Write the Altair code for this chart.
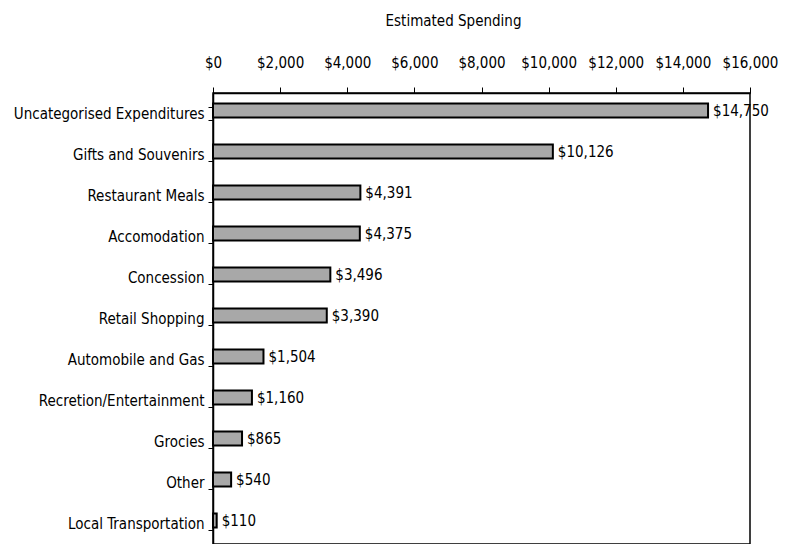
import altair as alt
import pandas as pd

categories = [
    "Uncategorised Expenditures",
    "Gifts and Souvenirs",
    "Restaurant Meals",
    "Accomodation",
    "Concession",
    "Retail Shopping",
    "Automobile and Gas",
    "Recretion/Entertainment",
    "Grocies",
    "Other",
    "Local Transportation",
]
spending = [14750, 10126, 4391, 4375, 3496, 3390, 1504, 1160, 865, 540, 110]
tick_values = [0, 2000, 4000, 6000, 8000, 10000, 12000, 14000, 16000]

df = pd.DataFrame({"category": categories, "spending": spending})

FONT = "DejaVu Sans Condensed, Liberation Sans Narrow, Liberation Sans, sans-serif"

y_enc = alt.Y(
    "category:N",
    sort=categories,
    title=None,
    scale=alt.Scale(paddingInner=0.66, paddingOuter=0.33),
    axis=alt.Axis(
        labelFont=FONT,
        labelFontSize=15,
        labelColor="black",
        labelPadding=4,
        labelLimit=0,
        tickBand="extent",
        tickSize=5,
        tickColor="black",
        domainColor="black",
        domainWidth=1.5,
    ),
)

x_enc = alt.X(
    "spending:Q",
    title="Estimated Spending",
    scale=alt.Scale(domain=[0, 16000], nice=False),
    axis=alt.Axis(
        orient="top",
        values=tick_values,
        format="$,.0f",
        grid=False,
        labelOverlap=False,
        labelFlush=False,
        labelFont=FONT,
        labelFontSize=15,
        labelColor="black",
        labelPadding=17,
        tickSize=6,
        tickColor="black",
        domainColor="black",
        domainWidth=1.5,
        titleFont=FONT,
        titleFontSize=15,
        titleFontWeight="normal",
        titleColor="black",
        titleX=240,
        titleY=-73,
        titleAlign="center",
        titleBaseline="middle",
    ),
)

bars = alt.Chart(df).mark_bar(
    size=14, fill="#a8a8a8", stroke="black", strokeWidth=2, yOffset=-3
).encode(x=x_enc, y=y_enc)

labels = alt.Chart(df).mark_text(
    align="left", baseline="middle", dx=5, dy=-3, font=FONT, fontSize=15, color="black"
).encode(
    x=alt.X("spending:Q"),
    y=alt.Y("category:N", sort=categories),
    text=alt.Text("spending:Q", format="$,.0f"),
)

chart = (
    alt.layer(bars, labels)
    .properties(
        width=537,
        height=451,
        background="white",
        autosize=alt.AutoSizeParams(type="none"),
        padding={"left": 205, "top": 85, "right": 29, "bottom": 0},
    )
    .configure_view(stroke="black", strokeWidth=1.5, strokeOpacity=1)
)

chart.save("out.html", embed_options={"renderer": "svg", "actions": False})
